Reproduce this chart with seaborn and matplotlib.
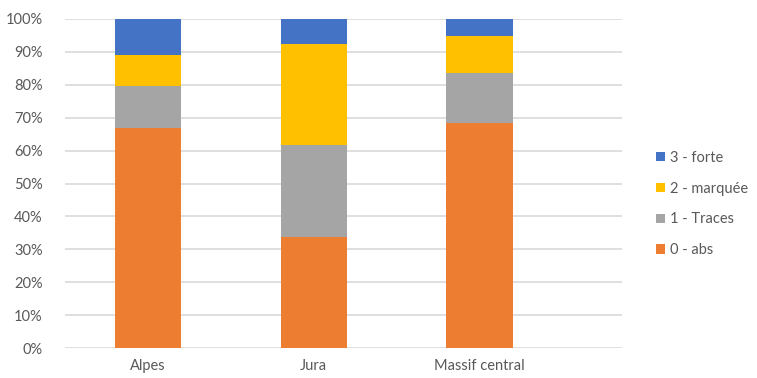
import matplotlib
matplotlib.use("Agg")
import matplotlib.pyplot as plt
import seaborn as sns
import pandas as pd
import numpy as np
from matplotlib.patches import Patch
from matplotlib.ticker import PercentFormatter

regions = ["Alpes", "Jura", "Massif central"]
abs0 = [67.0, 33.8, 68.3]
traces1 = [12.7, 28.0, 15.4]
marquee2 = [9.3, 30.7, 11.2]
forte3 = [11.0, 7.5, 5.1]

series_names = ["0 - abs", "1 - Traces", "2 - marquée", "3 - forte"]
colors = ["#ED7D31", "#A5A5A5", "#FFC000", "#4472C4"]

sns.set_theme(style="white")
plt.rcParams["font.family"] = ["Lato", "DejaVu Sans"]

fig = plt.figure(figsize=(7.57, 3.78), dpi=100)
ax = fig.add_axes([65/757, 1-348/378, (622-65)/757, (348-19)/378])

vals = np.array([abs0, traces1, marquee2, forte3])
cum = np.cumsum(vals, axis=0)

# draw from top of stack down so each segment shows
for i in range(3, -1, -1):
    df = pd.DataFrame({"region": regions, "value": cum[i]})
    sns.barplot(data=df, x="region", y="value", color=colors[i], width=0.4,
                saturation=1, ax=ax, zorder=3, linewidth=0)

ax.set_ylim(0, 100)
ax.set_xlim(-0.5, 2.86)
ax.set_yticks(np.arange(0, 101, 10))
ax.yaxis.set_major_formatter(PercentFormatter(decimals=0))
ax.grid(axis="y", color="#D9D9D9", linewidth=1.2, zorder=0)
ax.set_axisbelow(True)
for s in ax.spines.values():
    s.set_visible(False)
ax.set_xlabel("")
ax.set_ylabel("")
ax.tick_params(axis="both", length=0, colors="#595959", labelsize=10.5)
ax.tick_params(axis="y", pad=16)
ax.tick_params(axis="x", pad=8)

handles = [Patch(facecolor=colors[i], edgecolor="none", label=series_names[i]) for i in range(3, -1, -1)]
fig.legend(handles=handles, loc="center left", bbox_to_anchor=(643/757, 1-204/378),
           frameon=False, handlelength=0.6, handleheight=0.6, handletextpad=0.35,
           labelspacing=1.15, fontsize=10.5, labelcolor="#595959")

fig.savefig("out.png", dpi=100)
